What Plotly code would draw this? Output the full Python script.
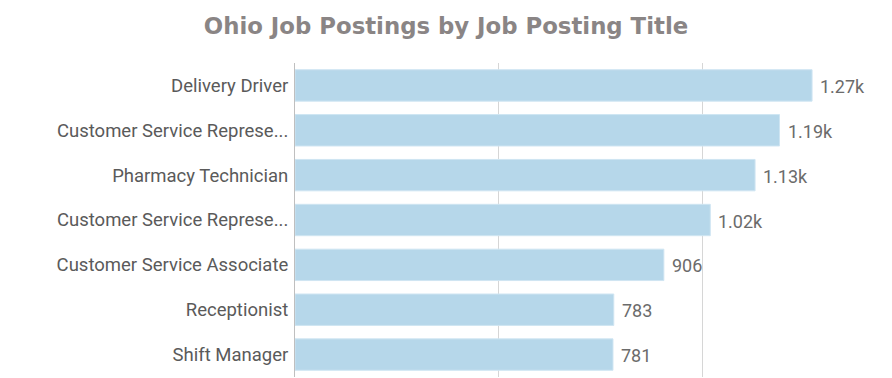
import plotly.graph_objects as go

categories = ["Delivery Driver", "Customer Service Represe... (1)", "Pharmacy Technician",
              "Customer Service Represe... (2)", "Customer Service Associate",
              "Receptionist", "Shift Manager"]
tick_labels = ["Delivery Driver", "Customer Service Represe...", "Pharmacy Technician",
               "Customer Service Represe...", "Customer Service Associate",
               "Receptionist", "Shift Manager"]
values = [1270, 1190, 1130, 1020, 906, 783, 781]
value_labels = ["1.27k", "1.19k", "1.13k", "1.02k", "906", "783", "781"]

fig = go.Figure(go.Bar(
    x=values, y=categories, orientation="h",
    marker=dict(color="#b6d7ea", line=dict(color="#cfe5f2", width=1)),
    width=0.7, hoverinfo="x+y",
))

for v, c, t in zip(values, categories, value_labels):
    fig.add_annotation(x=v, y=c, text=t, showarrow=False, xanchor="left",
                       xshift=6, yshift=-1,
                       font=dict(family="Roboto", size=18, color="#6b6b6b"))

fig.update_layout(
    width=892, height=378,
    margin=dict(l=295, r=27, t=63, b=1),
    paper_bgcolor="white", plot_bgcolor="white",
    title=dict(text="<b>Ohio Job Postings by Job Posting Title</b>", x=0.5, xanchor="center",
               y=0.93, yanchor="middle",
               font=dict(family="DejaVu Sans", size=22.8, color="#8a8585")),
    showlegend=False,
    xaxis=dict(range=[0, 1400], tickvals=[0, 500, 1000], showticklabels=False,
               showgrid=True, gridcolor="#d6d6d6", gridwidth=1, zeroline=False,
               showline=False, fixedrange=True),
    yaxis=dict(categoryorder="array", categoryarray=categories, autorange="reversed",
               tickvals=categories, ticktext=tick_labels,
               tickfont=dict(family="Roboto", size=18.5, color="#5a5a5a"),
               showline=True, linecolor="#bfbfbf", linewidth=1, ticks="", ticklen=0,
               ticklabelstandoff=2, showgrid=False),
)

fig.write_html("out.html", config={"displayModeBar": False},
               post_script="document.body.style.margin='0';")
